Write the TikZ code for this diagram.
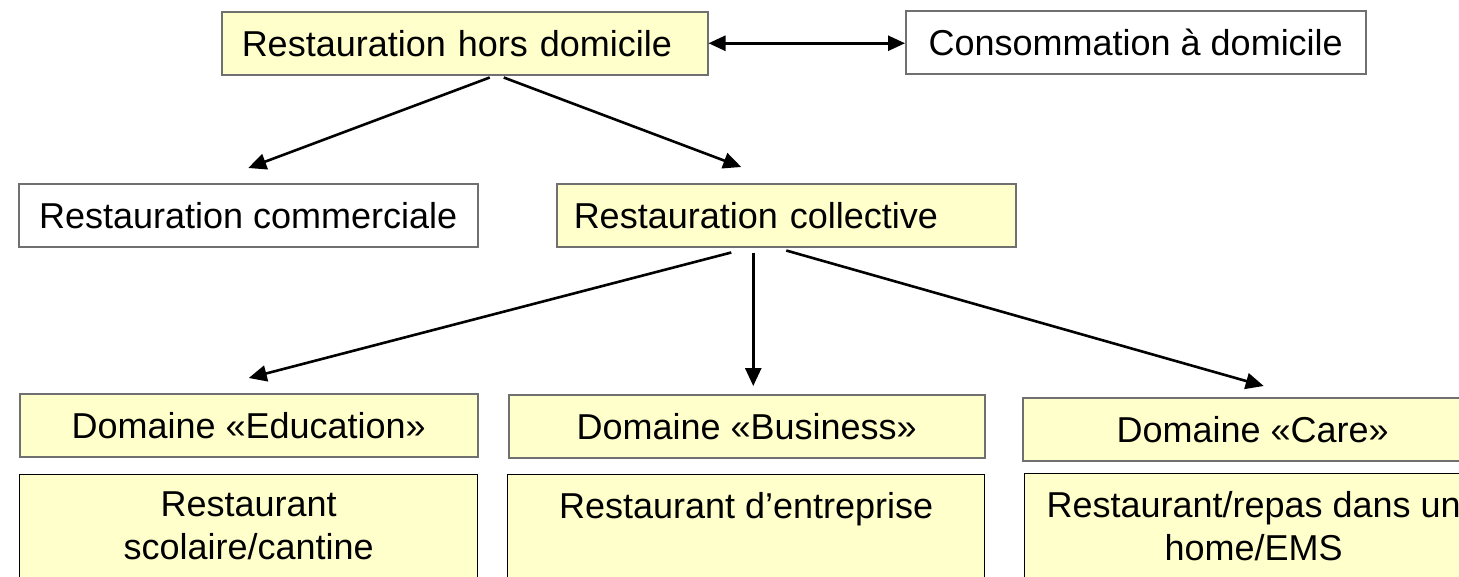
\documentclass[tikz,border=0pt]{standalone}
\usepackage{fontspec}
\setmainfont{Liberation Sans}
\usetikzlibrary{arrows.meta}
\definecolor{paleyellow}{RGB}{255,255,204}
\definecolor{boxgray}{RGB}{112,112,112}
\tikzset{
  box/.style={draw=boxgray, line width=1.5pt, fill=paleyellow, minimum height=63pt, anchor=north west, inner sep=0pt},
  whitebox/.style={box, fill=white},
  lowbox/.style={draw=black, line width=1.3pt, fill=paleyellow, minimum height=130pt, anchor=north west, inner sep=0pt},
  lowtext/.style={anchor=north, align=center, inner sep=0pt},
  arr/.style={line width=2.6pt, -{Triangle[length=18pt,width=16pt]}},
  arrboth/.style={line width=2.6pt, {Triangle[length=17pt,width=15pt]}-{Triangle[length=17pt,width=15pt]}}
}
\begin{document}
\begin{tikzpicture}[x=1pt, y=-1pt, font=\fontsize{36}{43}\selectfont]
\useasboundingbox (0,0) rectangle (1459,576);
\clip (0,0) rectangle (1459,576);
\node[box, minimum width=486pt, text width=446pt, align=left] (hors) at (221,11) {Restauration hors domicile};
\node[whitebox, minimum width=460pt] (conso) at (905,10) {Consommation à domicile};
\node[whitebox, minimum width=459pt] (commerciale) at (18,183) {Restauration commerciale};
\node[box, minimum width=459pt, text width=425pt, align=left] (collective) at (556,183) {Restauration collective};
\node[box, minimum width=458pt] (education) at (19,393) {Domaine «Education»};
\node[box, minimum width=476pt] (business) at (508,394) {Domaine «Business»};
\node[box, minimum width=460pt] (care) at (1022,397) {Domaine «Care»};
\node[lowbox, minimum width=458pt] (scolaire) at (19,474) {};
\node[lowbox, minimum width=477pt] (entreprise) at (507,474) {};
\node[lowbox, minimum width=458pt] (ems) at (1024,473) {};
\node[lowtext] (scolairetxt) at ([yshift=-18pt]scolaire.north) {Restaurant\\scolaire/cantine};
\node[lowtext] (entreprisetxt) at ([yshift=-18pt]entreprise.north) {Restaurant d’entreprise};
\node[lowtext] (emstxt) at ([yshift=-18pt]ems.north) {Restaurant/repas dans un\\home/EMS};
\draw[arrboth] (hors.east) -- (hors.east -| conso.west);
\draw[arr] ([xshift=25pt,yshift=-2pt]hors.south) -- ([yshift=15pt]commerciale.north);
\draw[arr] ([xshift=39pt,yshift=-2pt]hors.south) -- ([xshift=-45pt,yshift=16pt]collective.north);
\draw[arr] ([xshift=-55pt,yshift=-5pt]collective.south) -- ([yshift=15pt]education.north);
\draw[arr] ([xshift=-33pt,yshift=-5pt]collective.south) -- ([xshift=6.5pt,yshift=8pt]business.north);
\draw[arr] ([yshift=-3pt]collective.south) -- ([xshift=11pt,yshift=11pt]care.north);
\end{tikzpicture}
\end{document}
